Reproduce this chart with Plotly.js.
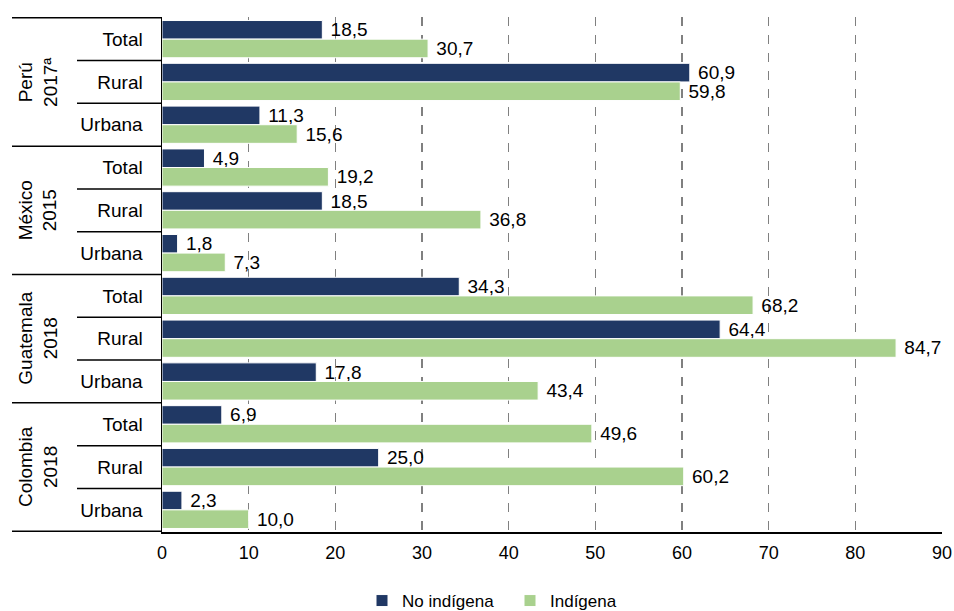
<!DOCTYPE html>
<html>
<head>
<meta charset="utf-8">
<script src="https://cdn.plot.ly/plotly-3.0.1.min.js"></script>
<style>html,body{margin:0;padding:0;background:#fff;}#chart{width:954px;height:611px;}</style>
</head>
<body>
<div id="chart"></div>
<script>
const groups = ["Perú<br>2017ª", "México<br>2015", "Guatemala<br>2018", "Colombia<br>2018"];
const areas = ["Total", "Rural", "Urbana"];
const categories = [
  "Perú|Total","Perú|Rural","Perú|Urbana",
  "México|Total","México|Rural","México|Urbana",
  "Guatemala|Total","Guatemala|Rural","Guatemala|Urbana",
  "Colombia|Total","Colombia|Rural","Colombia|Urbana"
];
const tickLabels = ["Total","Rural","Urbana","Total","Rural","Urbana","Total","Rural","Urbana","Total","Rural","Urbana"];
const noIndigena = [18.5, 60.9, 11.3, 4.9, 18.5, 1.8, 34.3, 64.4, 17.8, 6.9, 25.0, 2.3];
const indigena   = [30.7, 59.8, 15.6, 19.2, 36.8, 7.3, 68.2, 84.7, 43.4, 49.6, 60.2, 10.0];
const xTicks = [0,10,20,30,40,50,60,70,80,90];

const L = 162, R = 942, T = 17, B = 532;
const pxToPaperX = px => (px - L) / (R - L);
const FONT = 'Liberation Sans, Arial, sans-serif';

const traces = [
  {type:'bar', orientation:'h', name:'No indígena', y:categories, x:noIndigena,
   marker:{color:'#203864', line:{color:'#ffffff', width:1}},
   texttemplate:'\u00a0%{x:.1f}', textposition:'outside', cliponaxis:false, constraintext:'none',
   textfont:{size:19, color:'#000', family:FONT}},
  {type:'bar', orientation:'h', name:'Indígena', y:categories, x:indigena,
   marker:{color:'#A9D18E', line:{color:'#ffffff', width:1}},
   texttemplate:'\u00a0%{x:.1f}', textposition:'outside', cliponaxis:false, constraintext:'none',
   textfont:{size:19, color:'#000', family:FONT}}
];

const shapes = [];
for (let i = 0; i <= categories.length; i++) {
  const isGroup = (i % 3 === 0);
  shapes.push({type:'line', xref:'paper', yref:'y',
    x0: pxToPaperX(isGroup ? 12 : 77), x1: 0,
    y0: i - 0.5, y1: i - 0.5,
    line:{color:'#000', width:1.5}});
}

const annotations = groups.map((g, k) => ({
  xref:'paper', yref:'y', x: pxToPaperX(38), y: categories[k*3+1],
  text: g, textangle:-90, showarrow:false,
  font:{size:19, color:'#000', family:FONT},
  xanchor:'center', yanchor:'middle'
}));

const layout = {
  width:954, height:611,
  margin:{l:L, r:954-R, t:T, b:611-B, autoexpand:false},
  paper_bgcolor:'#fff', plot_bgcolor:'#fff',
  separators:',.',
  barmode:'group', bargap:0.13, bargroupgap:0,
  font:{family:FONT, size:19, color:'#000'},
  showlegend:true,
  legend:{orientation:'h', x:pxToPaperX(362), xanchor:'left', y:-(601-B)/(B-T), yanchor:'middle',
          font:{size:17, family:FONT}, itemwidth:30, entrywidth:103, entrywidthmode:'pixels'},
  xaxis:{range:[0,90], tickvals:xTicks, showgrid:true, gridcolor:'#808080', griddash:'dash', gridwidth:1.5,
         zeroline:false, showline:true, linecolor:'#000', linewidth:1.5,
         ticks:'outside', ticklen:4, tickcolor:'rgba(0,0,0,0)', tickfont:{size:18, family:FONT}},
  yaxis:{type:'category', categoryorder:'array', categoryarray:categories, autorange:'reversed',
         range:[categories.length-0.5, -0.5],
         tickvals:categories, ticktext:tickLabels, showgrid:false, zeroline:false,
         showline:true, linecolor:'#000', linewidth:1.5,
         ticks:'outside', ticklen:14, tickcolor:'rgba(0,0,0,0)', tickfont:{size:19, family:FONT}},
  shapes:shapes, annotations:annotations
};

Plotly.newPlot('chart', traces, layout, {displayModeBar:false, staticPlot:true});
</script>
</body>
</html>
